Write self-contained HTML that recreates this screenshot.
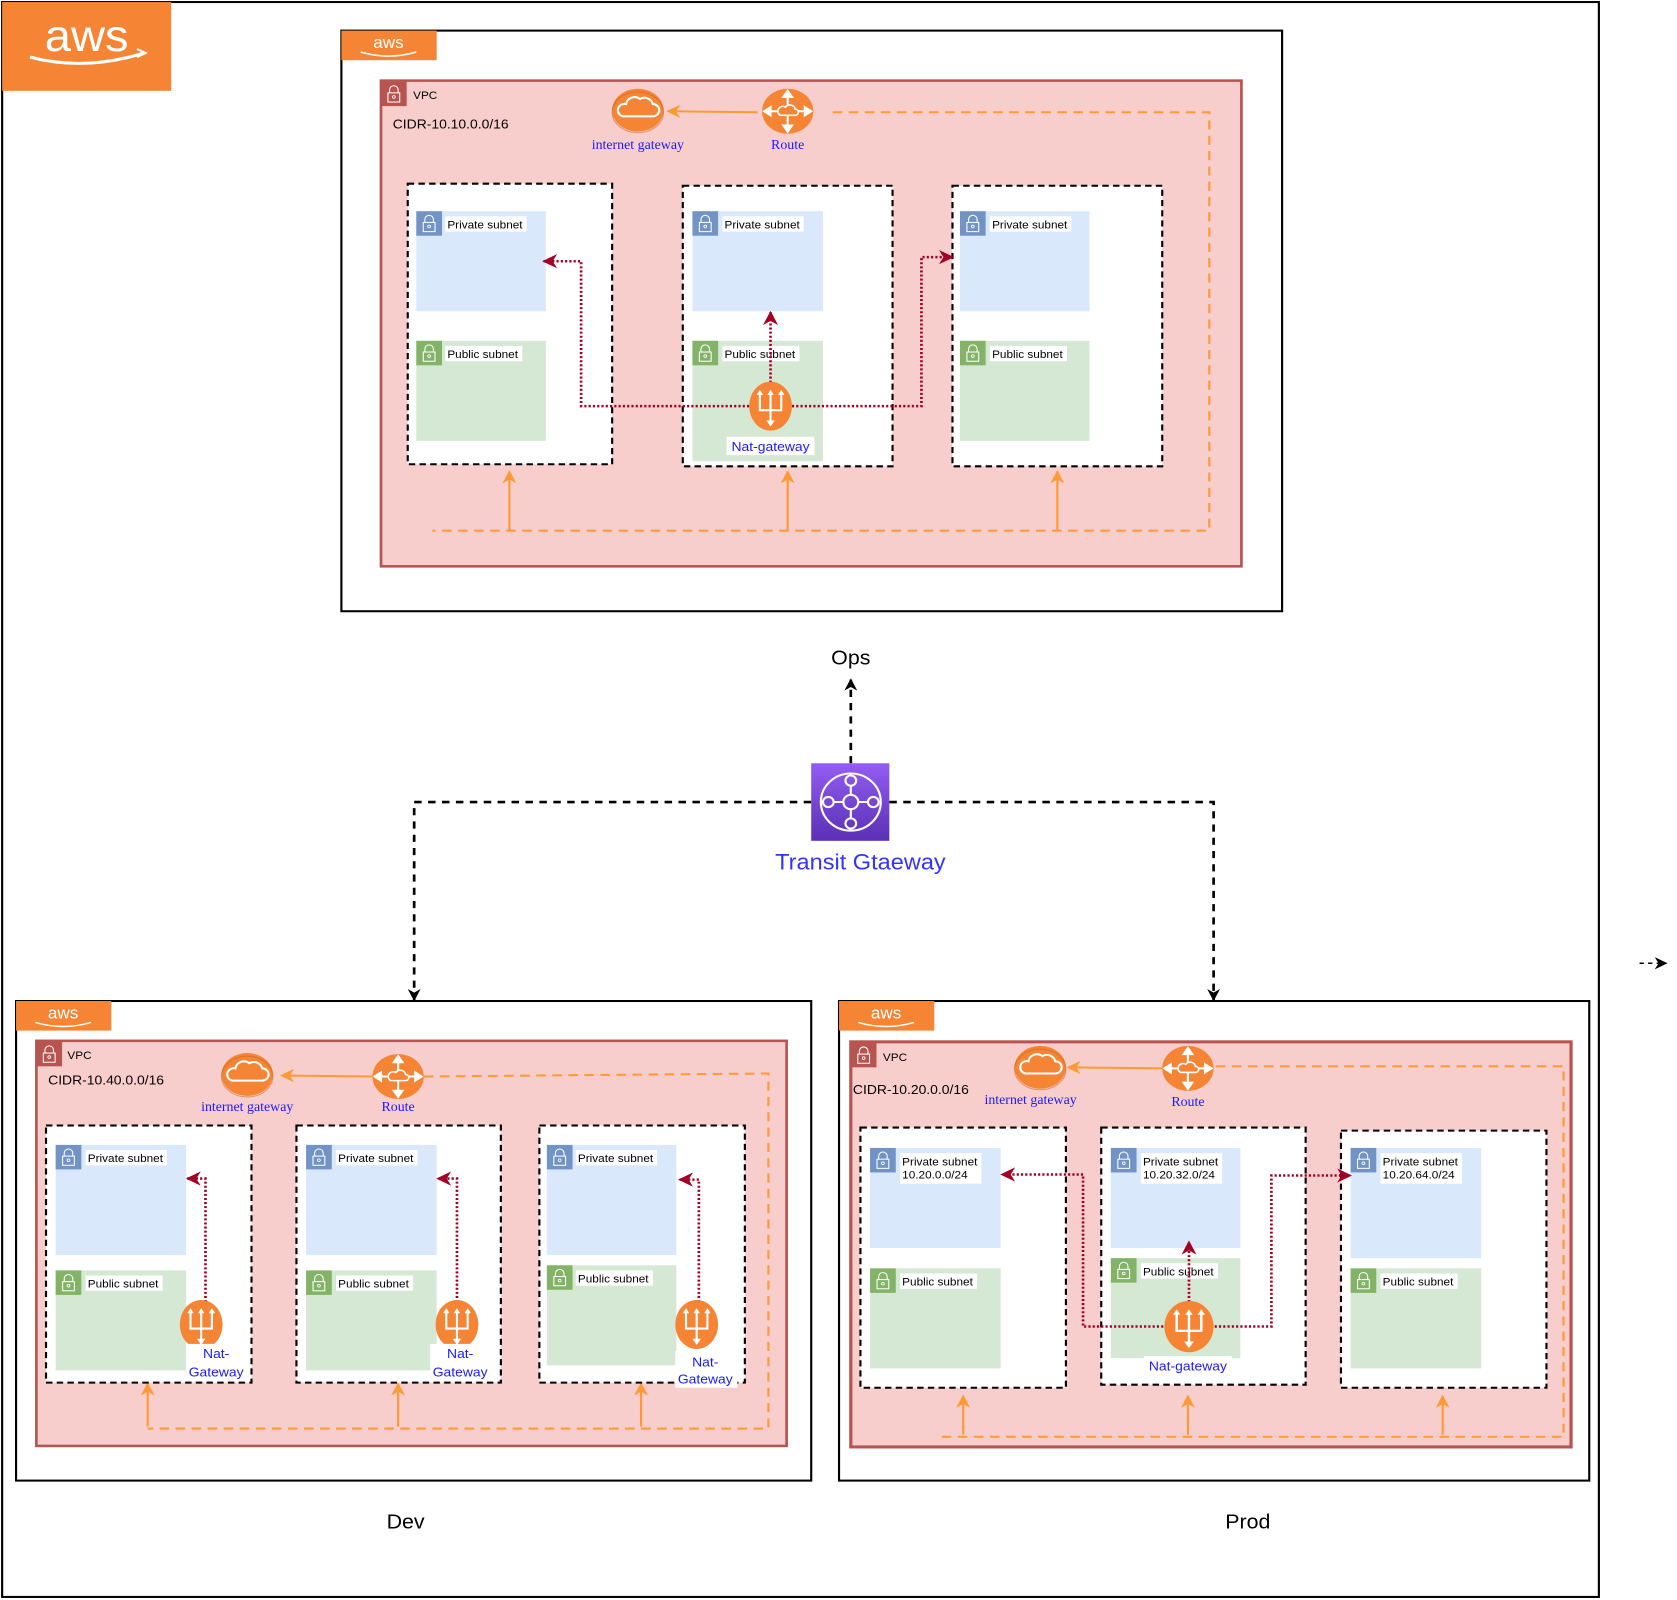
<!DOCTYPE html>
<html><head><meta charset="utf-8">
<style>
html,body{margin:0;padding:0;background:#fff;}
svg{display:block;}
text{font-family:"Liberation Sans",sans-serif;}
.sf{font-family:"Liberation Serif",serif;fill:#1a1aff;}
.bl{fill:#1a1aff;}
</style></head>
<body>
<svg width="1677" height="1600" viewBox="0 0 1567 1568" preserveAspectRatio="none" xmlns="http://www.w3.org/2000/svg">
<defs>
<marker id="ao" viewBox="0 0 10 10" refX="9" refY="5" markerWidth="13" markerHeight="13" orient="auto-start-reverse" markerUnits="userSpaceOnUse"><path d="M0,0 L10,5 L0,10 L3,5 z" fill="#ff9933"/></marker>
<marker id="ar" viewBox="0 0 10 10" refX="9" refY="5" markerWidth="14" markerHeight="14" orient="auto-start-reverse" markerUnits="userSpaceOnUse"><path d="M0,0 L10,5 L0,10 L3,5 z" fill="#a20025"/></marker>
<marker id="ab" viewBox="0 0 10 10" refX="9" refY="5" markerWidth="12" markerHeight="12" orient="auto-start-reverse" markerUnits="userSpaceOnUse"><path d="M0,0 L10,5 L0,10 L3,5 z" fill="#000"/></marker>
<linearGradient id="tg" x1="0" y1="0" x2="0" y2="1"><stop offset="0" stop-color="#945df2"/><stop offset="1" stop-color="#5a30b5"/></linearGradient>
<g id="lock"><rect width="24" height="24"/><path d="M8,11 V8 a4,4 0 0 1 8,0 V11" fill="none" stroke="#fff" stroke-width="1"/><rect x="6.5" y="11" width="11" height="9" fill="none" stroke="#fff" stroke-width="1"/><circle cx="12" cy="15" r="1.3" fill="none" stroke="#fff" stroke-width="0.8"/></g>
<g id="igw"><ellipse cx="0" cy="0" rx="24" ry="21" fill="#f58534"/><ellipse cx="0" cy="2" rx="24" ry="20" fill="none" stroke="#c25d16" stroke-width="1" opacity="0.5"/><path d="M-14,6 h28 a6,6 0 0 0 0,-12 a8,8 0 0 0 -12,-5 a8,8 0 0 0 -13,5 a6,6 0 0 0 -3,12z" fill="none" stroke="#fff" stroke-width="2"/></g>
<g id="rt"><ellipse cx="0" cy="0" rx="24" ry="22" fill="#f58534"/><g stroke="#fff" stroke-width="2" fill="#fff"><line x1="0" y1="-17" x2="0" y2="17"/><line x1="-19" y1="0" x2="19" y2="0"/><path d="M0,-20 l-4,6 h8z M0,20 l-4,-6 h8z M-22,0 l6,-4 v8z M22,0 l-6,-4 v8z"/></g><path d="M-7,4 h14 a3,3 0 0 0 0,-6 a5,5 0 0 0 -9,-2 a4,4 0 0 0 -5,8z" fill="#f58534" stroke="#fff" stroke-width="1.5"/></g>
<g id="nat"><ellipse cx="0" cy="0" rx="20" ry="24" fill="#f58534"/><g stroke="#fff" stroke-width="2" fill="none"><path d="M-10,-12 V4 H10 V-12 M0,-12 V16"/><path d="M0,20 l-4,-6 h8z M-10,-16 l-3,5 h6z M0,-16 l-3,5 h6z M10,-16 l-3,5 h6z" fill="#fff" stroke="none"/></g></g>
<g id="awst"><rect width="89" height="29" fill="#f58534"/><text x="44" y="17" text-anchor="middle" font-size="16" fill="#fff">aws</text><path d="M18,21 q26,8 52,0" stroke="#fff" stroke-width="1.5" fill="none"/></g>
</defs>

<rect x="2" y="2" width="1492" height="1563" fill="none" stroke="#000" stroke-width="2"/>
<rect x="2" y="2" width="158" height="87" fill="#f58534"/>
<text x="81" y="50" text-anchor="middle" font-size="44" fill="#fff">aws</text>
<path d="M28,56 q52,14 106,-4" stroke="#fff" stroke-width="3" fill="none"/><path d="M128,48 l8,4 -8,4" stroke="#fff" stroke-width="2" fill="none"/>

<!-- OPS -->
<rect x="319" y="30" width="879" height="569" fill="#fff" stroke="#000" stroke-width="2"/>
<use href="#awst" x="319" y="30"/>
<rect x="356" y="79" width="804" height="476" fill="#f8cecc" stroke="#b85450" stroke-width="2.5"/>
<use href="#lock" x="356" y="80" fill="#b85450"/>
<text x="386" y="97" font-size="11">VPC</text>
<text x="367" y="126" font-size="13">CIDR-10.10.0.0/16</text>
<use href="#igw" x="596" y="108"/>
<text x="596" y="146" class="sf" font-size="13" text-anchor="middle">internet gateway</text>
<use href="#rt" x="736" y="109"/>
<text x="736" y="146" class="sf" font-size="13" text-anchor="middle">Route</text>
<line x1="708" y1="110" x2="624" y2="109" stroke="#ff9933" stroke-width="2" marker-end="url(#ao)"/>
<path d="M778,110 H1130 V520 H404" fill="none" stroke="#ff9933" stroke-width="2" stroke-dasharray="9,6"/>
<line x1="476" y1="520" x2="476" y2="462" stroke="#ff9933" stroke-width="2" marker-end="url(#ao)"/>
<line x1="736" y1="520" x2="736" y2="462" stroke="#ff9933" stroke-width="2" marker-end="url(#ao)"/>
<line x1="988" y1="520" x2="988" y2="462" stroke="#ff9933" stroke-width="2" marker-end="url(#ao)"/>

<rect x="381" y="180" width="191" height="275" fill="#fff" stroke="#000" stroke-width="2" stroke-dasharray="6,4"/>
<rect x="638" y="182" width="196" height="275" fill="#fff" stroke="#000" stroke-width="2" stroke-dasharray="6,4"/>
<rect x="890" y="182" width="196" height="275" fill="#fff" stroke="#000" stroke-width="2" stroke-dasharray="6,4"/>

<rect x="389" y="207" width="121" height="98" fill="#dae8fc"/><use href="#lock" x="389" y="207" fill="#7193c6"/><rect x="416" y="212" width="76" height="15" fill="#fff"/><text x="418" y="224" font-size="11">Private subnet</text>
<rect x="389" y="334" width="121" height="98" fill="#d5e8d4"/><use href="#lock" x="389" y="334" fill="#82b366"/><rect x="416" y="339" width="72" height="15" fill="#fff"/><text x="418" y="351" font-size="11">Public subnet</text>
<rect x="647" y="207" width="122" height="98" fill="#dae8fc"/><use href="#lock" x="647" y="207" fill="#7193c6"/><rect x="675" y="212" width="76" height="15" fill="#fff"/><text x="677" y="224" font-size="11">Private subnet</text>
<rect x="647" y="334" width="122" height="118" fill="#d5e8d4"/><use href="#lock" x="647" y="334" fill="#82b366"/><rect x="675" y="339" width="72" height="15" fill="#fff"/><text x="677" y="351" font-size="11">Public subnet</text>
<rect x="897" y="207" width="121" height="98" fill="#dae8fc"/><use href="#lock" x="897" y="207" fill="#7193c6"/><rect x="925" y="212" width="76" height="15" fill="#fff"/><text x="927" y="224" font-size="11">Private subnet</text>
<rect x="897" y="334" width="121" height="98" fill="#d5e8d4"/><use href="#lock" x="897" y="334" fill="#82b366"/><rect x="925" y="339" width="72" height="15" fill="#fff"/><text x="927" y="351" font-size="11">Public subnet</text>

<g fill="none" stroke="#a20025" stroke-width="2.5" stroke-dasharray="2,2">
<path d="M700,398 H543 V256 H508" marker-end="url(#ar)"/>
<path d="M740,398 H861 V252 H890" marker-end="url(#ar)"/>
<path d="M720,375 V306" marker-end="url(#ar)"/>
</g>
<use href="#nat" x="720" y="398"/>
<rect x="679" y="428" width="82" height="18" fill="#fff"/>
<text x="720" y="442" class="bl" font-size="13" text-anchor="middle">Nat-gateway</text>

<text x="795" y="651" font-size="20" text-anchor="middle">Ops</text>

<g fill="none" stroke="#000" stroke-width="2.5" stroke-dasharray="7,6">
<path d="M795,748 V666" marker-end="url(#ab)"/>
<path d="M758,786 H387 V980" marker-end="url(#ab)"/>
<path d="M831,786 H1134 V980" marker-end="url(#ab)"/>
<path d="M1532,944 H1557" stroke-width="1.5" stroke-dasharray="4,4" marker-end="url(#ab)"/>
</g>
<rect x="758" y="748" width="73" height="76" fill="url(#tg)"/>
<g stroke="#fff" stroke-width="2" fill="none"><circle cx="795" cy="786" r="28"/><circle cx="795" cy="786" r="7"/><circle cx="795" cy="765" r="5"/><circle cx="795" cy="807" r="5"/><circle cx="774" cy="786" r="5"/><circle cx="816" cy="786" r="5"/><path d="M795,770 V779 M795,793 V802 M779,786 H788 M802,786 H811"/></g>
<text x="804" y="852" font-size="22" fill="#3333ff" text-anchor="middle">Transit Gtaeway</text>

<!-- DEV -->
<rect x="15" y="981" width="743" height="470" fill="#fff" stroke="#000" stroke-width="2"/>
<use href="#awst" x="15" y="981"/>
<rect x="34" y="1020" width="701" height="397" fill="#f8cecc" stroke="#b85450" stroke-width="2.5"/>
<use href="#lock" x="34" y="1021" fill="#b85450"/>
<text x="63" y="1038" font-size="11">VPC</text>
<text x="45" y="1063" font-size="13">CIDR-10.40.0.0/16</text>
<use href="#igw" x="231" y="1053"/>
<text x="231" y="1089" class="sf" font-size="13" text-anchor="middle">internet gateway</text>
<use href="#rt" x="372" y="1055"/>
<text x="372" y="1089" class="sf" font-size="13" text-anchor="middle">Route</text>
<line x1="349" y1="1055" x2="263" y2="1054" stroke="#ff9933" stroke-width="2" marker-end="url(#ao)"/>
<path d="M396,1055 L718,1052 V1400 H138" fill="none" stroke="#ff9933" stroke-width="2" stroke-dasharray="9,6"/>
<line x1="138" y1="1398" x2="138" y2="1356" stroke="#ff9933" stroke-width="2" marker-end="url(#ao)"/>
<line x1="372" y1="1398" x2="372" y2="1356" stroke="#ff9933" stroke-width="2" marker-end="url(#ao)"/>
<line x1="599" y1="1398" x2="599" y2="1356" stroke="#ff9933" stroke-width="2" marker-end="url(#ao)"/>

<rect x="43" y="1103" width="192" height="252" fill="#fff" stroke="#000" stroke-width="2" stroke-dasharray="6,4"/>
<rect x="277" y="1103" width="191" height="252" fill="#fff" stroke="#000" stroke-width="2" stroke-dasharray="6,4"/>
<rect x="504" y="1103" width="192" height="252" fill="#fff" stroke="#000" stroke-width="2" stroke-dasharray="6,4"/>

<rect x="52" y="1122" width="122" height="108" fill="#dae8fc"/><use href="#lock" x="52" y="1122" fill="#7193c6"/><rect x="80" y="1127" width="76" height="15" fill="#fff"/><text x="82" y="1139" font-size="11">Private subnet</text>
<rect x="52" y="1245" width="122" height="98" fill="#d5e8d4"/><use href="#lock" x="52" y="1245" fill="#82b366"/><rect x="80" y="1250" width="72" height="15" fill="#fff"/><text x="82" y="1262" font-size="11">Public subnet</text>
<rect x="286" y="1122" width="122" height="108" fill="#dae8fc"/><use href="#lock" x="286" y="1122" fill="#7193c6"/><rect x="314" y="1127" width="76" height="15" fill="#fff"/><text x="316" y="1139" font-size="11">Private subnet</text>
<rect x="286" y="1245" width="122" height="98" fill="#d5e8d4"/><use href="#lock" x="286" y="1245" fill="#82b366"/><rect x="314" y="1250" width="72" height="15" fill="#fff"/><text x="316" y="1262" font-size="11">Public subnet</text>
<rect x="511" y="1122" width="121" height="108" fill="#dae8fc"/><use href="#lock" x="511" y="1122" fill="#7193c6"/><rect x="538" y="1127" width="76" height="15" fill="#fff"/><text x="540" y="1139" font-size="11">Private subnet</text>
<rect x="511" y="1240" width="121" height="98" fill="#d5e8d4"/><use href="#lock" x="511" y="1240" fill="#82b366"/><rect x="538" y="1245" width="72" height="15" fill="#fff"/><text x="540" y="1257" font-size="11">Public subnet</text>

<g fill="none" stroke="#a20025" stroke-width="2.5" stroke-dasharray="2,2">
<path d="M192,1280 V1155 H175" marker-end="url(#ar)"/>
<path d="M427,1280 V1155 H409" marker-end="url(#ar)"/>
<path d="M653,1280 V1156 H635" marker-end="url(#ar)"/>
</g>
<use href="#nat" x="188" y="1298"/>
<use href="#nat" x="427" y="1298"/>
<use href="#nat" x="651" y="1298"/>
<rect x="174" y="1317" width="58" height="36" fill="#fff"/>
<text x="202" y="1331" class="bl" font-size="13" text-anchor="middle">Nat-</text><text x="202" y="1349" class="bl" font-size="13" text-anchor="middle">Gateway</text>
<rect x="402" y="1317" width="58" height="36" fill="#fff"/>
<text x="430" y="1331" class="bl" font-size="13" text-anchor="middle">Nat-</text><text x="430" y="1349" class="bl" font-size="13" text-anchor="middle">Gateway</text>
<rect x="631" y="1324" width="58" height="36" fill="#fff"/>
<text x="659" y="1339" class="bl" font-size="13" text-anchor="middle">Nat-</text><text x="659" y="1356" class="bl" font-size="13" text-anchor="middle">Gateway</text>

<text x="379" y="1498" font-size="20" text-anchor="middle">Dev</text>

<!-- PROD -->
<rect x="784" y="981" width="701" height="470" fill="#fff" stroke="#000" stroke-width="2"/>
<use href="#awst" x="784" y="981"/>
<rect x="795" y="1021" width="673" height="397" fill="#f8cecc" stroke="#b85450" stroke-width="3"/>
<use href="#lock" x="795" y="1022" fill="#b85450"/>
<text x="825" y="1040" font-size="11">VPC</text>
<text x="797" y="1072" font-size="13">CIDR-10.20.0.0/16</text>
<use href="#igw" x="972" y="1046"/>
<text x="963" y="1082" class="sf" font-size="13" text-anchor="middle">internet gateway</text>
<use href="#rt" x="1110" y="1047"/>
<text x="1110" y="1084" class="sf" font-size="13" text-anchor="middle">Route</text>
<line x1="1087" y1="1047" x2="998" y2="1046" stroke="#ff9933" stroke-width="2" marker-end="url(#ao)"/>
<path d="M1136,1045 H1461 V1408 H880" fill="none" stroke="#ff9933" stroke-width="2" stroke-dasharray="9,6"/>
<line x1="900" y1="1406" x2="900" y2="1368" stroke="#ff9933" stroke-width="2" marker-end="url(#ao)"/>
<line x1="1110" y1="1406" x2="1110" y2="1368" stroke="#ff9933" stroke-width="2" marker-end="url(#ao)"/>
<line x1="1348" y1="1406" x2="1348" y2="1368" stroke="#ff9933" stroke-width="2" marker-end="url(#ao)"/>

<rect x="804" y="1105" width="192" height="255" fill="#fff" stroke="#000" stroke-width="2" stroke-dasharray="6,4"/>
<rect x="1029" y="1105" width="191" height="252" fill="#fff" stroke="#000" stroke-width="2" stroke-dasharray="6,4"/>
<rect x="1253" y="1108" width="192" height="252" fill="#fff" stroke="#000" stroke-width="2" stroke-dasharray="6,4"/>

<rect x="813" y="1125" width="122" height="98" fill="#dae8fc"/><use href="#lock" x="813" y="1125" fill="#7193c6"/><rect x="841" y="1130" width="76" height="30" fill="#fff"/><text x="843" y="1142" font-size="11">Private subnet</text><text x="843" y="1155" font-size="11">10.20.0.0/24</text>
<rect x="813" y="1243" width="122" height="98" fill="#d5e8d4"/><use href="#lock" x="813" y="1243" fill="#82b366"/><rect x="841" y="1248" width="72" height="15" fill="#fff"/><text x="843" y="1260" font-size="11">Public subnet</text>
<rect x="1038" y="1125" width="121" height="98" fill="#dae8fc"/><use href="#lock" x="1038" y="1125" fill="#7193c6"/><rect x="1066" y="1130" width="76" height="30" fill="#fff"/><text x="1068" y="1142" font-size="11">Private subnet</text><text x="1068" y="1155" font-size="11">10.20.32.0/24</text>
<rect x="1038" y="1233" width="121" height="98" fill="#d5e8d4"/><use href="#lock" x="1038" y="1233" fill="#82b366"/><rect x="1066" y="1238" width="72" height="15" fill="#fff"/><text x="1068" y="1250" font-size="11">Public subnet</text>
<rect x="1262" y="1125" width="122" height="108" fill="#dae8fc"/><use href="#lock" x="1262" y="1125" fill="#7193c6"/><rect x="1290" y="1130" width="76" height="30" fill="#fff"/><text x="1292" y="1142" font-size="11">Private subnet</text><text x="1292" y="1155" font-size="11">10.20.64.0/24</text>
<rect x="1262" y="1243" width="122" height="98" fill="#d5e8d4"/><use href="#lock" x="1262" y="1243" fill="#82b366"/><rect x="1290" y="1248" width="72" height="15" fill="#fff"/><text x="1292" y="1260" font-size="11">Public subnet</text>

<g fill="none" stroke="#a20025" stroke-width="2.5" stroke-dasharray="2,2">
<path d="M1087,1300 H1012 V1151 H936" marker-end="url(#ar)"/>
<path d="M1135,1300 H1188 V1152 H1262" marker-end="url(#ar)"/>
<path d="M1111,1276 V1217" marker-end="url(#ar)"/>
</g>
<g transform="translate(1111,1300) scale(1.15,1.05)"><use href="#nat"/></g>
<rect x="1069" y="1329" width="82" height="18" fill="#fff"/>
<text x="1110" y="1343" class="bl" font-size="13" text-anchor="middle">Nat-gateway</text>

<text x="1166" y="1498" font-size="20" text-anchor="middle">Prod</text>
</svg>
</body></html>
